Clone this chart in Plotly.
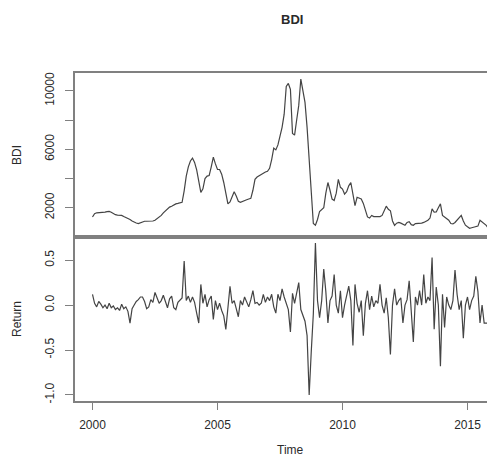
import plotly.graph_objects as go

# ---------------- data (monthly, Jan 2000 - Dec 2015) ----------------
start_year = 2000
freq = 12

bdi_2000 = [1375, 1600, 1660, 1660, 1650, 1660, 1700, 1740, 1750, 1700, 1600, 1530]
bdi_2001 = [1500, 1490, 1480, 1400, 1330, 1300, 1200, 1100, 1000, 960, 925, 980]
bdi_2002 = [1060, 1080, 1080, 1080, 1090, 1100, 1150, 1250, 1350, 1480, 1650, 1800]
bdi_2003 = [1900, 2050, 2110, 2200, 2270, 2300, 2330, 2380, 3160, 4170, 4800, 5200]
bdi_2004 = [5400, 5100, 4600, 3800, 3050, 3300, 4000, 4170, 4210, 4800, 5470, 5000]
bdi_2005 = [4620, 4620, 4300, 3730, 3000, 2270, 2400, 2700, 3100, 2800, 2450, 2380]
bdi_2006 = [2450, 2500, 2550, 2600, 2650, 3200, 3950, 4100, 4200, 4280, 4400, 4450]
bdi_2007 = [4500, 4700, 5300, 6080, 5960, 6300, 6900, 7500, 8400, 10300, 10500, 10100]
bdi_2008 = [7090, 6970, 8000, 9000, 10800, 10000, 9210, 7500, 5300, 2400, 925, 810]
bdi_2009 = [1200, 1750, 1850, 2000, 3000, 3730, 3200, 2600, 2500, 3000, 3950, 3400]
bdi_2010 = [3280, 2940, 3100, 3500, 3730, 2900, 2150, 2720, 2650, 2600, 2300, 1820]
bdi_2011 = [1375, 1300, 1480, 1400, 1400, 1450, 1400, 1480, 1750, 2110, 1900, 1800]
bdi_2012 = [1100, 800, 950, 1000, 950, 850, 810, 1000, 1050, 850, 810, 925]
bdi_2013 = [925, 900, 950, 1000, 1050, 1150, 1300, 1930, 1700, 1710, 2000, 2270]
bdi_2014 = [1480, 1375, 1300, 1150, 925, 900, 1000, 1150, 1300, 1480, 1100, 810]
bdi_2015 = [700, 600, 640, 660, 700, 750, 1150, 1050, 925, 800, 600, 420]

ret_2000 = [0.12, 0.02, -0.02, 0.04, 0.01, -0.03, 0.00, -0.04, 0.02, -0.03, -0.01, -0.05]
ret_2001 = [-0.03, -0.06, 0.01, -0.04, -0.02, -0.07, -0.20, -0.04, 0.00, 0.04, 0.06, 0.09]
ret_2002 = [0.09, 0.04, -0.04, -0.02, 0.06, 0.03, 0.14, 0.08, 0.02, 0.05, 0.11, 0.04]
ret_2003 = [-0.03, 0.07, 0.10, -0.03, -0.05, 0.03, 0.06, 0.08, 0.49, 0.05, 0.10, 0.03]
ret_2004 = [0.09, 0.03, -0.09, -0.20, 0.23, 0.02, 0.12, -0.02, 0.06, 0.10, -0.16, 0.05]
ret_2005 = [-0.05, 0.02, -0.06, -0.12, -0.27, -0.05, 0.21, 0.02, 0.05, -0.04, -0.13, 0.05]
ret_2006 = [0.00, 0.09, 0.04, -0.02, 0.06, 0.16, 0.02, 0.03, 0.00, 0.02, 0.12, 0.03]
ret_2007 = [0.09, 0.05, 0.12, -0.02, -0.09, 0.12, 0.05, 0.18, 0.09, 0.02, -0.05, -0.30]
ret_2008 = [0.13, 0.02, 0.14, 0.25, -0.05, -0.12, -0.18, -0.34, -1.00, -0.52, -0.10, 0.69]
ret_2009 = [0.05, -0.14, 0.05, 0.40, 0.15, -0.20, 0.05, 0.10, 0.34, 0.00, -0.09, 0.16]
ret_2010 = [-0.14, 0.00, 0.09, 0.21, 0.05, -0.45, 0.23, 0.02, -0.08, 0.05, -0.34, 0.02]
ret_2011 = [0.16, -0.05, 0.10, -0.02, 0.05, 0.02, 0.23, 0.00, -0.09, 0.08, -0.14, -0.55]
ret_2012 = [0.00, 0.18, 0.00, 0.05, 0.08, -0.20, 0.00, 0.06, 0.27, -0.10, -0.41, 0.09]
ret_2013 = [0.00, 0.16, 0.00, 0.34, 0.02, 0.09, 0.05, 0.53, -0.27, 0.20, 0.00, -0.68]
ret_2014 = [0.12, -0.25, 0.09, 0.00, -0.05, 0.05, 0.39, 0.12, -0.05, 0.05, -0.37, 0.00]
ret_2015 = [0.09, -0.05, 0.05, 0.10, 0.32, 0.15, -0.20, 0.00, -0.20, -0.20, -0.20, 0.00]

x_ticks = [2000, 2005, 2010, 2015]
bdi_ticks = [2000, 4000, 6000, 8000, 10000]
bdi_tick_labels = ["2000", "", "6000", "", "10000"]
ret_ticks = [-1.0, -0.5, 0.0, 0.5]
ret_tick_labels = ["-1.0", "-0.5", "0.0", "0.5"]

bdi = (bdi_2000 + bdi_2001 + bdi_2002 + bdi_2003 + bdi_2004 + bdi_2005 + bdi_2006 + bdi_2007
       + bdi_2008 + bdi_2009 + bdi_2010 + bdi_2011 + bdi_2012 + bdi_2013 + bdi_2014 + bdi_2015)
ret = (ret_2000 + ret_2001 + ret_2002 + ret_2003 + ret_2004 + ret_2005 + ret_2006 + ret_2007
       + ret_2008 + ret_2009 + ret_2010 + ret_2011 + ret_2012 + ret_2013 + ret_2014 + ret_2015)
t = [start_year + i / freq for i in range(len(bdi))]


def r_range(v):
    lo, hi = min(v), max(v)
    pad = 0.04 * (hi - lo)
    return [lo - pad, hi + pad]


# ---------------- figure ----------------
# the page body has an 8px default margin, so the figure is sized and
# positioned to land on the 495x457 window the same way the reference does
OFF = 8
W, H = 495 - OFF, 457 - OFF
ML, MR, MT, MB = 75 - OFF, 0, 73 - OFF, 56
PW, PH = W - ML - MR, H - MT - MB

line_col = "#444444"
frame_col = "#808080"
text_col = "#2a2a2a"
font_family = "Liberation Sans, Arial, Helvetica, sans-serif"

x_range = [1999.30, 1999.30 + PW / 25.0]

fig = go.Figure()
fig.add_trace(go.Scatter(x=t, y=bdi, xaxis="x", yaxis="y", mode="lines",
                         line=dict(color=line_col, width=1.2), hoverinfo="skip"))
fig.add_trace(go.Scatter(x=t, y=ret, xaxis="x2", yaxis="y2", mode="lines",
                         line=dict(color=line_col, width=1.2), hoverinfo="skip"))

common_axis = dict(showgrid=False, zeroline=False, showline=True, linecolor=frame_col,
                   linewidth=1.5, tickcolor=frame_col, tickwidth=1,
                   tickfont=dict(family=font_family, size=12, color=text_col))

fig.update_layout(
    width=W, height=H,
    margin=dict(l=ML, r=MR, t=MT, b=MB, autoexpand=False),
    paper_bgcolor="white", plot_bgcolor="white",
    showlegend=False,
    font=dict(family=font_family, size=12, color=text_col),
    xaxis=dict(domain=[0, 1], anchor="y", range=x_range, showticklabels=False, ticks="",
               mirror=True, **common_axis),
    xaxis2=dict(domain=[0, 1], anchor="y2", range=x_range, tickvals=x_ticks,
                ticks="outside", ticklen=7, mirror=True, ticklabelstandoff=5, **common_axis),
    yaxis=dict(domain=[0.5, 1], anchor="x", range=r_range(bdi), tickvals=bdi_ticks,
               ticktext=bdi_tick_labels, tickangle=-90, ticks="outside", ticklen=8,
               ticklabelstandoff=6, **common_axis),
    yaxis2=dict(domain=[0, 0.5], anchor="x2", range=r_range(ret), tickvals=ret_ticks,
                ticktext=ret_tick_labels, tickangle=-90, ticks="outside", ticklen=8,
                ticklabelstandoff=6, **common_axis),
)


def px_to_paper(px, py):
    # px, py are window pixels
    fx, fy = px - OFF, py - OFF
    return (fx - ML) / PW, (H - MB - fy) / PH


annos = [
    ("<b>BDI</b>", 292, 20, 0, 13),
    ("BDI", 17, 155, -90, 12),
    ("Return", 17, 319, -90, 12),
    ("Time", 290, 450, 0, 12),
]
for text, px, py, ang, size in annos:
    ax, ay = px_to_paper(px, py)
    fig.add_annotation(text=text, x=ax, y=ay, xref="paper", yref="paper",
                       xanchor="center", yanchor="middle", showarrow=False,
                       textangle=ang, font=dict(family=font_family, size=size, color=text_col))

fig.write_html("out.html")
